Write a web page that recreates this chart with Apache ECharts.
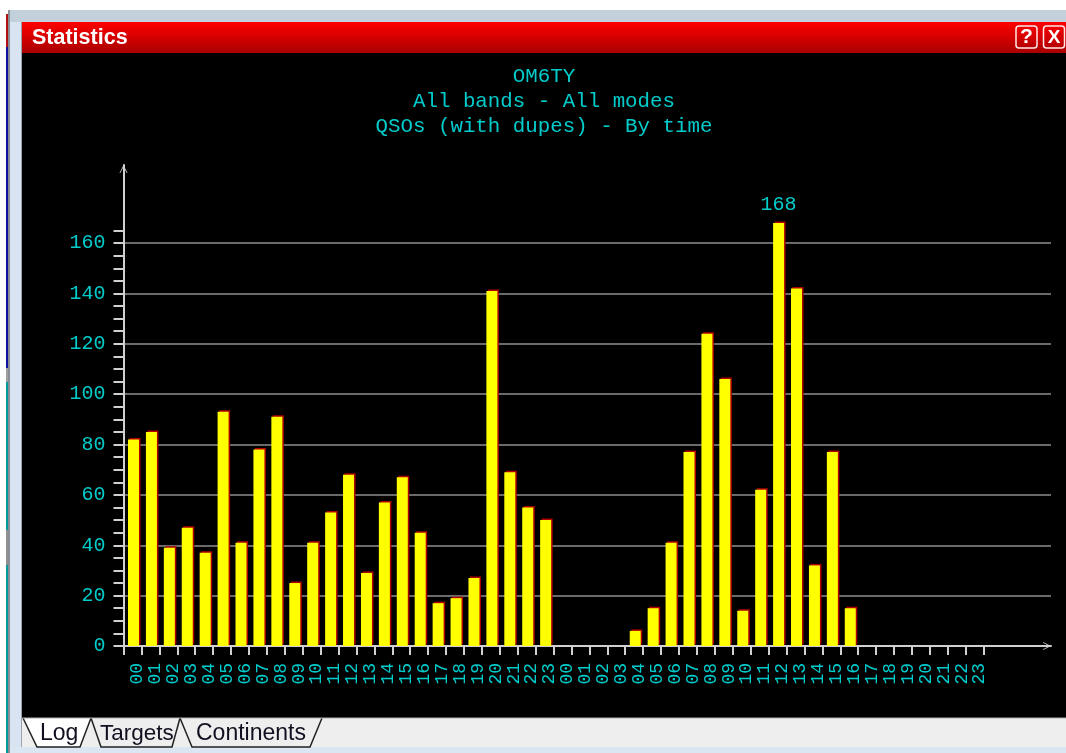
<!DOCTYPE html>
<html>
<head>
<meta charset="utf-8">
<title>Statistics</title>
<script src="https://cdn.jsdelivr.net/npm/echarts@6/dist/echarts.min.js"></script>
<style>
  html, body { margin: 0; padding: 0; background: #fff; }
  #chart { width: 1066px; height: 753px; }
</style>
</head>
<body>
<div id="chart"></div>
<script>
const titleLines = ['OM6TY', 'All bands - All modes', 'QSOs (with dupes) - By time'];
const hourLabels = ['00','01','02','03','04','05','06','07','08','09','10','11','12','13','14','15','16','17','18','19','20','21','22','23',
                    '00','01','02','03','04','05','06','07','08','09','10','11','12','13','14','15','16','17','18','19','20','21','22','23'];
const qsoValues = [82,85,39,47,37,93,41,78,91,25,41,53,68,29,57,67,45,17,19,27,141,69,55,50,
                   0,0,0,0,6,15,41,77,124,106,14,62,168,142,32,77,15,0,0,0,0,0,0,0];
const yLabelValues = [0,20,40,60,80,100,120,140,160];
const yTickValues = [0,5,10,15,20,25,30,35,40,45,50,55,60,65,70,75,80,85,90,95,100,105,110,115,120,125,130,135,140,145,150,155,160,165];
const tabNames = ['Log', 'Targets', 'Continents'];

const CYAN = '#00cccc';
const AXIS = '#d0d0d0';
const MONO = '"Liberation Mono", monospace';
const ARROW = 'path://M0 10 L5 0 L10 10 L9 10 L5 2.4 L1 10 Z';

const maxValue = Math.max(...qsoValues);
const xTicks = hourLabels.map((_, i) => i).concat(hourLabels.length);
const xLabelPos = hourLabels.map((_, i) => i + 0.78);
const points = qsoValues.map((v, i) => [i + 0.558, v]);

function rect(x, y, w, h, fill) {
  return { type: 'rect', z: -10, silent: true, shape: { x, y, width: w, height: h }, style: { fill } };
}
function line(pts, stroke, width) {
  return { type: 'polyline', z: -5, silent: true, shape: { points: pts }, style: { stroke, lineWidth: width || 1.5, fill: null } };
}
function text(str, x, y, font, fill, align) {
  return { type: 'text', z: -4, silent: true, style: { text: str, x, y, font, fill, align: align || 'left', verticalAlign: 'middle' } };
}
function winButton(x, glyph, size) {
  return [
    { type: 'rect', z: -5, silent: true, shape: { x, y: 26, width: 21, height: 22, r: 3 }, style: { fill: 'transparent', stroke: '#ffe8e8', lineWidth: 1.5 } },
    text(glyph, x + 10.5, 37.5, 'bold ' + size + 'px "Liberation Sans"', '#fff', 'center')
  ];
}

const chrome = [
  rect(6, 14, 2, 33, '#b01010'),
  rect(6, 47, 2, 321, '#1010a0'),
  rect(6, 368, 2, 14, '#a0a0a0'),
  rect(6, 382, 2, 371, '#009a9a'),
  rect(6, 530, 2, 35, '#909090'),
  rect(8, 10, 2, 743, '#8a8f96'),
  rect(10, 10, 1056, 12, '#c2d0dc'),
  rect(10, 22, 12, 731, '#d8e4f2'),
  rect(21, 22, 1, 731, '#9aa2ac'),
  {
    type: 'rect', z: -10, silent: true,
    shape: { x: 22, y: 22, width: 1044, height: 31 },
    style: { fill: new echarts.graphic.LinearGradient(0, 0, 0, 1, [
      { offset: 0, color: '#ff0000' }, { offset: 1, color: '#a80000' }
    ]) }
  },
  rect(22, 53, 1044, 665, '#000'),
  rect(22, 718, 1044, 29, '#eeeeee'),
  rect(10, 747, 1056, 6, '#dbe6f3'),
  text('Statistics', 32, 38.5, 'bold 21.5px "Liberation Sans"', '#fff'),
  ...winButton(1016, '?', 21),
  ...winButton(1043.5, 'X', 19),
  { type: 'polygon', z: -6, silent: true, shape: { points: [[23, 718], [37, 747], [80, 747], [91, 718]] }, style: { fill: '#fff' } },
  line([[23, 718], [37, 747], [80, 747], [91, 718]], '#222'),
  line([[91, 718], [101, 747], [172, 747], [180, 718]], '#222'),
  line([[180, 718], [192, 747], [310, 747], [322, 718]], '#222'),
  line([[22, 718], [1066, 718]], '#b0b0b0', 1),
  text(tabNames[0], 40, 734, '23px "Liberation Sans"', '#101020'),
  text(tabNames[1], 100, 734, '22.5px "Liberation Sans"', '#101020'),
  text(tabNames[2], 196, 734, '23px "Liberation Sans"', '#101020')
];

const chart = echarts.init(document.getElementById('chart'), null, { renderer: 'canvas' });
chart.setOption({
  animation: false,
  backgroundColor: '#fff',
  graphic: { elements: chrome },
  title: {
    text: titleLines.join('\n'),
    left: 539,
    top: 59,
    textAlign: 'center',
    textStyle: { color: CYAN, fontFamily: MONO, fontSize: 20.8, fontWeight: 'normal', lineHeight: 25 }
  },
  grid: { left: 123.5, right: 15, top: 165, bottom: 107 },
  xAxis: {
    type: 'value',
    min: 0,
    max: 51.76,
    axisLine: {
      onZero: false,
      lineStyle: { color: AXIS, width: 2 },
      symbol: ['none', ARROW],
      symbolSize: [13, 8],
      symbolOffset: [0, -4]
    },
    axisTick: { show: true, length: 9, customValues: xTicks, lineStyle: { color: AXIS, width: 2 } },
    axisLabel: {
      customValues: xLabelPos,
      rotate: 90,
      margin: 17,
      color: CYAN,
      fontFamily: MONO,
      fontSize: 18,
      formatter: v => hourLabels[Math.floor(v)]
    },
    splitLine: { show: false }
  },
  yAxis: [{
    type: 'value',
    min: 0,
    max: 191,
    axisLine: {
      show: true,
      onZero: false,
      lineStyle: { color: AXIS, width: 2 },
      symbol: ['none', ARROW],
      symbolSize: [13, 8],
      symbolOffset: [0, -4]
    },
    axisTick: { show: true, length: 10, customValues: yLabelValues, lineStyle: { color: AXIS, width: 2 } },
    axisLabel: {
      customValues: yLabelValues,
      margin: 18,
      color: CYAN,
      fontFamily: MONO,
      fontSize: 20
    },
    splitLine: { show: true, lineStyle: { color: '#6a6a6a', width: 2 } }
  }, {
    // second axis only carries the 5-step ticks, so grid lines stay on the 20 step
    type: 'value',
    position: 'left',
    min: 0,
    max: 191,
    axisLine: { show: false, onZero: false },
    axisTick: { show: true, length: 10, customValues: yTickValues, lineStyle: { color: AXIS, width: 2 } },
    axisLabel: { show: false },
    splitLine: { show: false }
  }],
  series: [{
    type: 'bar',
    barWidth: 11,
    data: points,
    itemStyle: { color: '#ffff00', shadowColor: '#b00000', shadowOffsetX: 1.5, shadowOffsetY: -1.5, shadowBlur: 0 },
    label: {
      show: true,
      position: 'top',
      distance: 8,
      color: CYAN,
      fontFamily: MONO,
      fontSize: 20,
      formatter: p => p.value[1] === maxValue ? String(p.value[1]) : ''
    }
  }]
});
</script>
</body>
</html>
